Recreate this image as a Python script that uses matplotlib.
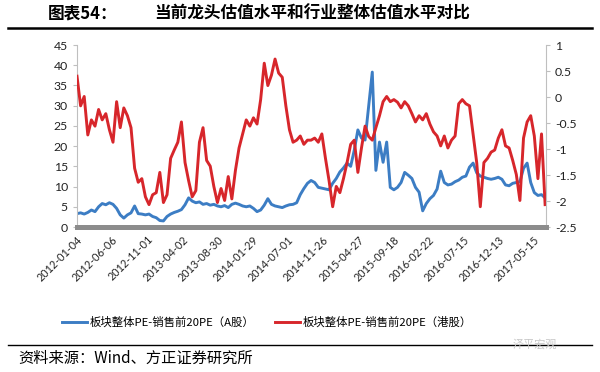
import numpy as np
import matplotlib
matplotlib.use("Agg")
import matplotlib.pyplot as plt
from matplotlib.ticker import FormatStrFormatter

plt.rcParams['font.family'] = ['Noto Sans CJK SC', 'DejaVu Sans']

# x in trading days; one reading roughly every 10.25 trading days
step = 10.25
tick_labels = ["2012-01-04", "2012-06-06", "2012-11-01", "2013-04-02", "2013-08-30",
               "2014-01-29", "2014-07-01", "2014-11-26", "2015-04-27", "2015-09-18",
               "2016-02-22", "2016-07-15", "2016-12-13", "2017-05-15"]
tick_every = 100

# A股 (left axis)
a_share = [3.3, 3.5, 3.2, 3.6, 4.2, 3.8, 5.0, 5.8, 5.5, 6.0,
           5.6, 4.6, 3.0, 2.2, 3.0, 3.5, 5.2, 3.3, 3.2, 3.0,
           3.2, 2.6, 2.3, 1.6, 1.5, 2.6, 3.2, 3.6, 3.9, 4.3,
           5.5, 7.2, 6.4, 6.0, 6.2, 5.6, 5.8, 5.4, 5.6, 5.2,
           5.0, 5.3, 4.8, 5.6, 5.9, 5.6, 5.2, 5.0, 5.2, 4.6,
           3.8, 4.2, 5.4, 7.0, 5.6, 5.2, 5.0, 4.8, 5.2, 5.5,
           5.6, 6.0, 8.0, 9.5, 10.8, 11.5, 11.0, 9.8, 9.6, 9.4,
           9.2, 10.8, 12.0, 13.6, 14.6, 15.8, 15.0, 19.0, 24.0, 22.0,
           21.5, 30.0, 38.3, 14.0, 21.0, 16.0, 21.0, 9.8, 9.2, 9.8,
           11.0, 13.5, 12.8, 12.0, 9.8, 8.6, 4.0, 5.8, 7.0, 7.8,
           9.4, 13.8, 11.0, 10.4, 10.6, 11.2, 11.6, 12.3, 12.6, 14.8,
           15.8, 13.4, 12.6, 12.3, 12.0, 11.8, 12.0, 12.3, 11.8, 10.4,
           10.2, 10.8, 11.0, 11.2, 14.5, 15.8, 11.0, 8.5, 7.8, 8.0,
           7.2]

# 港股 (right axis)
hk_share = [0.40, -0.17, 0.01, -0.73, -0.44, -0.56, -0.24, -0.44, -0.32, -0.63,
            -0.87, -0.09, -0.59, -0.21, -0.36, -0.59, -1.37, -1.64, -1.57, -1.92,
            -2.07, -1.88, -1.84, -1.45, -2.03, -1.88, -1.18, -1.02, -0.87, -0.48,
            -1.26, -1.61, -1.92, -1.80, -0.87, -0.59, -1.22, -1.33, -1.72, -2.03,
            -1.76, -1.99, -1.53, -1.96, -1.41, -0.98, -0.71, -0.44, -0.56, -0.40,
            -0.52, -0.05, 0.65, 0.22, 0.42, 0.73, 0.46, 0.38, -0.17, -0.63,
            -0.87, -0.83, -0.75, -0.91, -0.83, -0.83, -0.79, -0.87, -0.71, -1.18,
            -1.61, -2.11, -1.72, -1.84, -1.57, -1.26, -0.91, -0.83, -1.45, -0.98,
            -0.56, -0.76, -0.83, -0.59, -0.36, -0.09, 0.01, -0.09, -0.05, -0.10,
            -0.21, -0.09, -0.17, -0.32, -0.48, -0.36, -0.44, -0.32, -0.52, -0.67,
            -0.75, -0.94, -0.75, -0.98, -0.83, -0.75, -0.13, -0.05, -0.13, -0.17,
            -0.71, -1.26, -2.11, -1.26, -1.18, -1.06, -1.02, -0.79, -0.63, -0.94,
            -0.98, -1.22, -1.49, -1.99, -0.79, -0.48, -0.36, -0.75, -1.57, -0.71,
            -2.07]

blue = "#3C7DC4"
red = "#D7262B"
grey = "#BFBFBF"

fig = plt.figure(figsize=(6, 3.72), dpi=100)
ax = fig.add_axes([77 / 600, 1 - 227 / 372, 469 / 600, 182 / 372])
ax2 = ax.twinx()

xa = np.arange(len(a_share)) * step
xh = np.arange(len(hk_share)) * step
l1, = ax.plot(xa, a_share, color=blue, lw=2.1, label="板块整体PE-销售前20PE（A股）")
l2, = ax2.plot(xh, hk_share, color=red, lw=2.1, label="板块整体PE-销售前20PE（港股）")

ax.set_xlim(0, 1335)
ax.set_ylim(0, 45)
ax.set_yticks(np.arange(0, 46, 5))
ax2.set_ylim(-2.5, 1)
ax2.set_yticks(np.arange(-2.5, 1.01, 0.5))
ax2.yaxis.set_major_formatter(FormatStrFormatter('%g'))

ax.set_xticks(np.arange(len(tick_labels)) * tick_every)
ax.set_xticklabels(tick_labels, rotation=45, ha='right', rotation_mode='anchor',
                   fontsize=7.8, family=['Lato', 'DejaVu Sans'], color='#222222')
ax.tick_params(axis='x', length=0, pad=5)

for a in (ax, ax2):
    a.spines['top'].set_visible(False)
    a.spines['left'].set_color(grey)
    a.spines['right'].set_color(grey)
    a.spines['bottom'].set_color('#8C8C8C')
    a.spines['bottom'].set_linewidth(3.5)
    a.tick_params(axis='y', length=3, color=grey, labelsize=8.8, labelcolor='#222222')
    for t in a.get_yticklabels():
        t.set_family(['Lato', 'DejaVu Sans'])
ax2.spines['left'].set_visible(False)
ax.spines['right'].set_visible(False)

fig.legend(handles=[l1, l2], loc='center', bbox_to_anchor=(0.445, 0.134), ncol=2,
           frameon=False, fontsize=8.2, handlelength=2.2, columnspacing=1.8,
           handletextpad=0.2)

# title block
fig.text(48 / 600, 1 - 14 / 372, "图表54：", fontsize=12, fontweight='bold', va='center')
fig.text(312 / 600, 1 - 14 / 372, "当前龙头估值水平和行业整体估值水平对比", fontsize=12,
         fontweight='bold', va='center', ha='center')
fig.add_artist(plt.Line2D([8 / 600, 592 / 600], [1 - 28 / 372, 1 - 28 / 372],
                          color='black', lw=1.8))
fig.add_artist(plt.Line2D([8 / 600, 592 / 600], [1 - 345 / 372, 1 - 345 / 372],
                          color='black', lw=1.0))
fig.text(18 / 600, 1 - 358 / 372, "资料来源：Wind、方正证券研究所", fontsize=11,
         style='italic', va='center')
fig.text(535 / 600, 1 - 344 / 372, "泽平宏观", fontsize=8, color='#C8C8C8',
         va='center', ha='center')

fig.savefig("out.png", dpi=100)
